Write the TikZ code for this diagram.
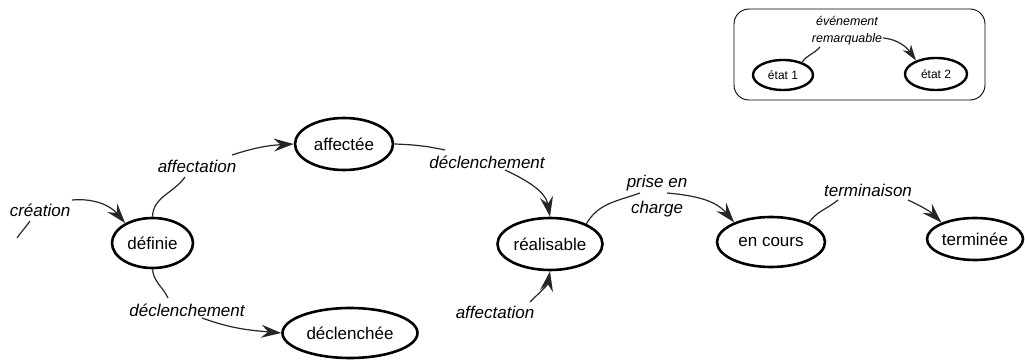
\documentclass[tikz,border=0pt]{standalone}
\usepackage{fontspec}
\setmainfont{Liberation Sans}
\usetikzlibrary{shapes.geometric,arrows.meta}
\begin{document}
\begin{tikzpicture}[x=1pt,y=1pt,
  state/.style={ellipse,draw=black,line width=2.6pt,inner sep=0pt,font=\fontsize{17}{19}\selectfont},
  smallstate/.style={ellipse,draw=black,line width=2.4pt,inner sep=0pt,font=\fontsize{12}{14}\selectfont},
  lbl/.style={font=\fontsize{17}{26}\selectfont\itshape,inner sep=0pt,align=center},
  smalllbl/.style={font=\fontsize{12.5}{17}\selectfont\itshape,inner sep=0pt,align=center},
  conn/.style={draw=black!85,line width=1.2pt},
  arr/.style={conn,-{Stealth[length=20pt,width=13pt,inset=7pt]}},
  smallarr/.style={conn,-{Stealth[length=16pt,width=10pt,inset=5pt]}}]
\useasboundingbox (0,0) rectangle (1025,359);
% legend
\node[draw=black,line width=0.9pt,rounded corners=15pt,minimum width=251pt,minimum height=91pt,inner sep=0pt] (legend) at (859.5,304.5) {};
\node[smallstate,minimum width=60pt,minimum height=30pt] (e1) at (783,284) {état 1};
\node[smallstate,minimum width=62pt,minimum height=32pt] (e2) at (936,285) {état 2};
\node[smalllbl] (evt) at (847,328.5) {événement\\remarquable};
\coordinate (l1) at (820,312);
\coordinate (l2) at (883,321);
\draw[conn] (e1.34) to[out=55,in=230] (l1);
\draw[smallarr] (l2) to[out=-5,in=125] (e2.146);
% states
\node[state,minimum width=81pt,minimum height=50pt] (def) at (152.5,116) {définie};
\node[state,minimum width=98pt,minimum height=52pt] (aff) at (344,215) {affectée};
\node[state,minimum width=135pt,minimum height=50pt] (dec) at (350,26) {déclenchée};
\node[state,minimum width=105pt,minimum height=52pt] (real) at (550,115) {réalisable};
\node[state,minimum width=108pt,minimum height=50pt] (enc) at (771,117) {en cours};
\node[state,minimum width=96pt,minimum height=42pt] (ter) at (975,120) {terminée};
% labels
\node[lbl] (cre) at (40,149) {création};
\node[lbl] (affu) at (197,193) {affectation};
\node[lbl] (decl) at (187,49) {déclenchement};
\node[lbl] (decu) at (487,197) {déclenchement};
\node[lbl] (affl) at (495,47) {affectation};
\node[lbl] (prise) at (657,162.5) {prise en\\charge};
\node[lbl] (term) at (868,169) {terminaison};
% free ends
\coordinate (c0) at (17,121);
\coordinate (c1) at (30,138);
\coordinate (c2) at (72,159);
\coordinate (a1) at (185,182);
\coordinate (a2) at (232,204);
\coordinate (d1) at (168,61);
\coordinate (d2) at (202,41);
\coordinate (u1) at (445,209);
\coordinate (u2) at (505,189);
\coordinate (f2) at (530,57);
\coordinate (p1) at (640,166);
\coordinate (p2) at (667,166);
\coordinate (t1) at (838,159);
\coordinate (t2) at (908,159);
% connectors
\draw[conn] (c0) to[out=55,in=235] (c1);
\draw[arr] (c2) to[out=5,in=130] (def.144);
\draw[conn] (def.north) to[out=88,in=235] (a1);
\draw[arr] (a2) to[out=18,in=183] (aff.west);
\draw[conn] (def.south) to[out=-85,in=115] (d1);
\draw[arr] (d2) to[out=-20,in=175] (dec.west);
\draw[conn] (aff.east) to[out=-2,in=168] (u1);
\draw[arr] (u2) to[out=-25,in=100] (real.north);
\draw[arr] (f2) to[out=45,in=-100] (real.south);
\draw[conn] (real.29) to[out=60,in=200] (p1);
\draw[arr] (p2) to[out=-5,in=130] (enc.152);
\draw[conn] (enc.27) to[out=55,in=220] (t1);
\draw[arr] (t2) to[out=-25,in=135] (ter.154);
\end{tikzpicture}
\end{document}
